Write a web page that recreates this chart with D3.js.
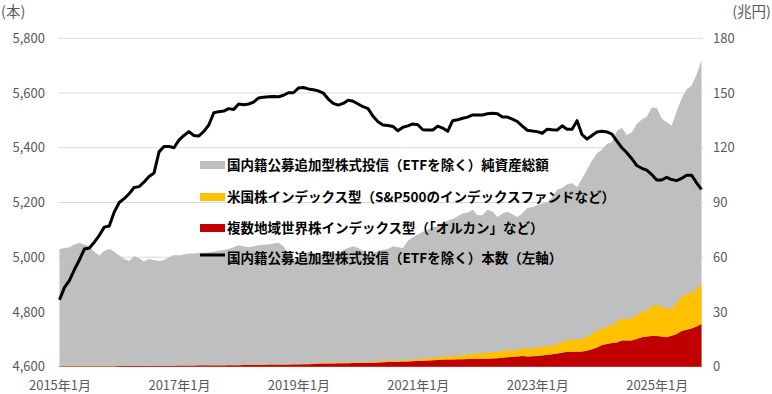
<!DOCTYPE html>
<html>
<meta charset="utf-8">
<head>
<style>
body { margin:0; padding:0; background:#fff; }
svg { display:block; }
text { font-family: "Noto Sans CJK JP", "Noto Sans", sans-serif; }
</style>
</head>
<body>
<svg id="chart"></svg>
<script src="https://d3js.org/d3.v7.min.js"></script>
<script>

// monthly, 2015-01 .. 2025-10
var months = d3.timeMonth.range(new Date(2015, 0, 1), new Date(2025, 10, 1)).map(d3.timeFormat("%Y-%m"));

var tickMonths = ["2015-01","2017-01","2019-01","2021-01","2023-01","2025-01"];
var tickLabels = ["2015年1月","2017年1月","2019年1月","2021年1月","2023年1月","2025年1月"];
var leftTicks = [4600,4800,5000,5200,5400,5600,5800];
var rightTicks = [0,30,60,90,120,150,180];

// 本数 (left axis)
var fundCount = [4844,4890,4915,4955,4990,5030,5034,5055,5080,5110,5114,5165,
 5200,5214,5232,5255,5258,5275,5295,5308,5385,5405,5405,5400,
 5428,5445,5459,5445,5443,5460,5483,5528,5532,5534,5543,5540,
 5560,5557,5560,5567,5582,5585,5586,5587,5586,5592,5601,5601,
 5618,5620,5615,5612,5608,5600,5578,5562,5556,5562,5574,5570,
 5560,5550,5543,5515,5495,5483,5481,5478,5462,5475,5480,5487,
 5484,5466,5465,5465,5479,5472,5460,5499,5502,5508,5512,5520,
 5520,5520,5524,5526,5524,5512,5512,5505,5496,5479,5464,5461,
 5459,5453,5468,5466,5465,5480,5468,5468,5499,5448,5432,5445,
 5458,5460,5458,5450,5424,5400,5382,5360,5335,5325,5318,5302,
 5282,5282,5292,5284,5280,5288,5300,5300,5272,5248];

// 純資産総額 (兆円, right axis)
var totalAssets = [64.5,65,65.5,67,68,67,66,63,61,63.5,64.5,63,
 61,59,58,60.5,59.5,57.6,59,58.5,58,58.5,60,61.2,
 61,61.5,62,62,62.3,62.5,62.8,63,63.5,64,64.5,65.5,
 66.5,66,65.5,66,66.5,66.8,67,67.5,68,66,62,58,
 59.5,61.5,63,62.5,60,62,63,62,62.5,64,65,66,
 65,63.5,61,62,63.5,64,64.5,66,65.5,65,69,71,
 72.5,74,75,76.5,77,79,80,81,82.5,84,84.5,86,
 83,83,86,85,82,84,85,83.5,82,84,87,87.5,
 88.5,89.5,90,93,97,98,100,100.5,98.5,103,108,113,
 117,119,122,123,129,131,127,128.5,133,135.5,137,142,
 142,136,134,132,140,147,152,154,160,168];

// 複数地域世界株インデックス型 (兆円)
var globalIndex = [0.3,0.3,0.3,0.3,0.3,0.3,0.3,0.3,0.3,0.3,0.3,0.3,
 0.35,0.35,0.35,0.35,0.35,0.35,0.35,0.35,0.35,0.35,0.35,0.35,
 0.5,0.5,0.55,0.55,0.6,0.6,0.65,0.65,0.7,0.7,0.75,0.8,
 0.85,0.9,0.9,0.95,1.0,1.0,1.05,1.05,1.1,1.1,1.1,1.15,
 1.2,1.3,1.4,1.5,1.6,1.7,1.75,1.8,1.85,1.9,1.95,2.0,
 2.0,2.05,2.1,2.2,2.3,2.5,2.6,2.7,2.75,2.8,2.9,3.0,
 3.2,3.3,3.4,3.5,3.7,3.9,4.0,4.0,4.1,4.1,4.2,4.2,
 4.2,4.3,4.4,4.5,4.6,4.9,5.2,5.4,5.6,5.8,5.6,5.7,
 5.9,6.2,6.5,6.8,7.2,7.6,8.2,8.2,8.2,8.3,8.8,9.5,
 10.5,11.9,12.5,13,13.2,14.3,14.3,14.3,15.2,16.1,16.5,16.8,
 16.8,16.6,16.2,17,17.9,19.5,20.3,21,22,23.4];

// 米国株インデックス型 (兆円)
var usIndex = [0.1,0.1,0.1,0.1,0.1,0.1,0.1,0.1,0.1,0.1,0.1,0.1,
 0.1,0.1,0.1,0.1,0.1,0.1,0.1,0.1,0.1,0.1,0.1,0.1,
 0.1,0.1,0.1,0.1,0.1,0.1,0.1,0.1,0.1,0.1,0.1,0.1,
 0.15,0.15,0.15,0.15,0.2,0.2,0.2,0.2,0.2,0.2,0.15,0.15,
 0.2,0.2,0.25,0.25,0.25,0.3,0.3,0.3,0.3,0.35,0.35,0.4,
 0.4,0.35,0.3,0.35,0.4,0.45,0.5,0.55,0.6,0.65,0.75,0.85,
 1.0,1.1,1.2,1.3,1.4,1.5,1.6,1.8,1.9,2.2,2.5,2.8,
 3.0,3.1,3.3,3.4,3.5,3.7,3.9,3.5,3.2,4.6,4.2,4.3,
 4.5,4.8,4.8,4.7,5.1,6.0,6.2,6.4,6.4,7.0,7.4,8.3,
 9.2,8.9,9.4,9.8,11.3,12.2,11.7,12.2,13.3,14.1,14.0,16.2,
 17.0,16.0,15.8,14.6,16.9,19.0,19.5,19.6,20.4,22.3];

var legendLabels = [
  "国内籍公募追加型株式投信（ETFを除く）純資産総額",
  "米国株インデックス型（S&P500のインデックスファンドなど）",
  "複数地域世界株インデックス型（「オルカン」など）",
  "国内籍公募追加型株式投信（ETFを除く）本数（左軸）"
];

var width = 772, height = 394;
var svg = d3.select("#chart").attr("width", width).attr("height", height);

var x = d3.scalePoint().domain(months).range([59.5, 701.5]);
var yL = d3.scaleLinear().domain([4600, 5800]).range([366.7, 38.3]);
var yR = d3.scaleLinear().domain([0, 180]).range([366.7, 38.3]);

var rows = months.map(function(m, i) {
  return { month: m, total: totalAssets[i], global: globalIndex[i], us: usIndex[i], count: fundCount[i] };
});
var stacked = d3.stack().keys(["global", "us"])(rows);

// grid
svg.append("g").selectAll("line")
  .data(leftTicks).enter().append("line")
    .attr("x1", 58).attr("x2", 703)
    .attr("y1", function(d) { return yL(d); })
    .attr("y2", function(d) { return yL(d); })
    .attr("stroke", "#d9d9d9").attr("stroke-width", 1);

// areas
var totalArea = d3.area()
  .x(function(d) { return x(d.month); })
  .y0(yR(0))
  .y1(function(d) { return yR(d.total); });

svg.append("path").datum(rows)
  .attr("fill", "#bfbfbf")
  .attr("d", totalArea);

var stackArea = d3.area()
  .x(function(d) { return x(d.data.month); })
  .y0(function(d) { return yR(d[0]); })
  .y1(function(d) { return yR(d[1]); });

var colors = { global: "#c00000", us: "#ffc000" };
svg.append("g").selectAll("path")
  .data(stacked).enter().append("path")
    .attr("fill", function(d) { return colors[d.key]; })
    .attr("d", stackArea);

// count line
var countLine = d3.line()
  .x(function(d) { return x(d.month); })
  .y(function(d) { return yL(d.count); });

svg.append("path").datum(rows)
  .attr("fill", "none")
  .attr("stroke", "#000")
  .attr("stroke-width", 3)
  .attr("stroke-linejoin", "round")
  .attr("d", countLine);

// axes
var axL = svg.append("g").attr("transform", "translate(45,0)")
  .call(d3.axisLeft(yL).tickValues(leftTicks).tickSize(0).tickPadding(0).tickFormat(d3.format(",")));
var axR = svg.append("g").attr("transform", "translate(713,0)")
  .call(d3.axisRight(yR).tickValues(rightTicks).tickSize(0).tickPadding(0));
var axB = svg.append("g").attr("transform", "translate(0,367)")
  .call(d3.axisBottom(x).tickValues(tickMonths).tickSize(0).tickPadding(14)
    .tickFormat(function(d) { return tickLabels[tickMonths.indexOf(d)]; }));

[axL, axR, axB].forEach(function(a) {
  a.select(".domain").remove();
  a.selectAll("text")
    .attr("fill", "#595959")
    .style("font-size", "13px")
    .style("font-family", '"Noto Sans CJK JP", sans-serif');
});

svg.append("text").attr("x", 1).attr("y", 17)
  .attr("fill", "#595959").style("font-size", "14.5px").text("(本)");
svg.append("text").attr("x", 771).attr("y", 17).attr("text-anchor", "end")
  .attr("fill", "#595959").style("font-size", "14.5px").text("(兆円)");

// legend
var legendY = [165, 197, 228, 258];
var lg = svg.append("g");
[0, 1, 2].forEach(function(i) {
  var fill = i === 0 ? "#bfbfbf" : (i === 1 ? "#ffc000" : "#c00000");
  lg.append("rect").attr("x", 200).attr("y", legendY[i] - 4).attr("width", 25).attr("height", 8).attr("fill", fill);
});
lg.append("line").attr("x1", 200).attr("x2", 225).attr("y1", legendY[3] - 3).attr("y2", legendY[3] - 3)
  .attr("stroke", "#000").attr("stroke-width", 3);
lg.selectAll("text").data(legendLabels).enter().append("text")
  .attr("x", 227)
  .attr("y", function(d, i) { return legendY[i]; })
  .attr("dy", "0.35em")
  .attr("fill", "#000")
  .style("font-size", "13.5px")
  .style("font-weight", "bold")
  .text(function(d) { return d; });

</script>
</body>
</html>
